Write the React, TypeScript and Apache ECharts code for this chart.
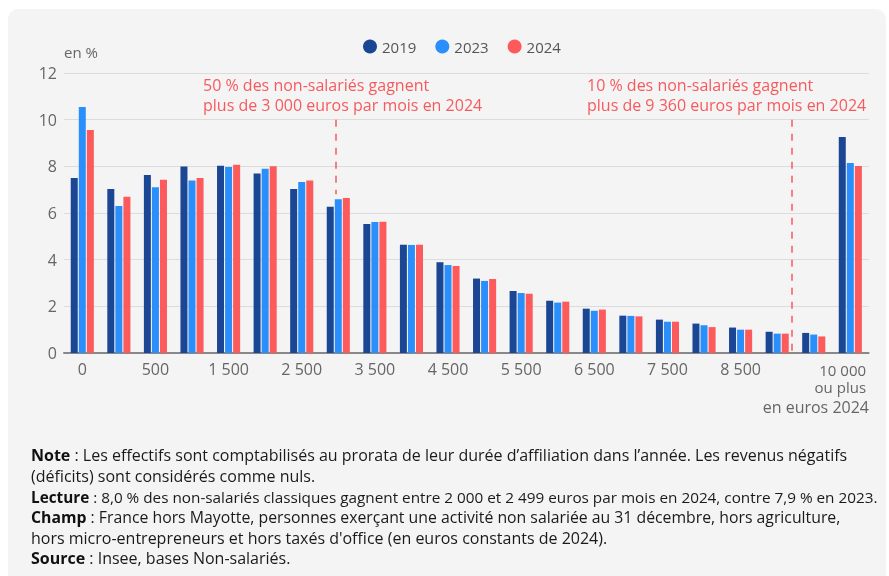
import React, { useEffect, useRef } from "react";
import * as echarts from "echarts";

const categories = [
  "0", "1", "500", "1 000", "1 500", "2 000", "2 500", "3 000", "3 500", "4 000", "4 500",
  "5 000", "5 500", "6 000", "6 500", "7 000", "7 500", "8 000", "8 500", "9 000", "9 500", "10 000 ou plus",
];
const shownLabels = [0, 2, 4, 6, 8, 10, 12, 14, 16, 18, 21];
const v2019 = [7.5, 7.03, 7.63, 7.99, 8.03, 7.69, 7.03, 6.27, 5.53, 4.64, 3.89, 3.19, 2.66, 2.24, 1.9, 1.6, 1.43, 1.26, 1.09, 0.91, 0.86, 9.26];
const v2023 = [10.54, 6.3, 7.1, 7.39, 7.97, 7.9, 7.33, 6.59, 5.61, 4.63, 3.77, 3.09, 2.57, 2.16, 1.81, 1.59, 1.34, 1.19, 1.0, 0.83, 0.79, 8.14];
const v2024 = [9.56, 6.7, 7.43, 7.5, 8.07, 8.0, 7.39, 6.64, 5.63, 4.64, 3.73, 3.17, 2.54, 2.2, 1.86, 1.57, 1.34, 1.11, 1.0, 0.83, 0.71, 8.01];
const yearNames = ["2019", "2023", "2024"];
const yTicks = { min: 0, max: 12, interval: 2 };
// annotation lines: category position (fractional), from value, to value
const medianLine = { pos: 6.93, from: 10, to: 6.8 };
const decileLine = { pos: 19.39, from: 10, to: 0 };
const annot1 = ["50 % des non-salariés gagnent", "plus de 3 000 euros par mois en 2024"];
const annot2 = ["10 % des non-salariés gagnent", "plus de 9 360 euros par mois en 2024"];
const footLines = [
  "{b|Note} : Les effectifs sont comptabilisés au prorata de leur durée d’affiliation dans l’année. Les revenus négatifs",
  "(déficits) sont considérés comme nuls.",
  "{b|Lecture} : 8,0 % des non-salariés classiques gagnent entre 2 000 et 2 499 euros par mois en 2024, contre 7,9 % en 2023.",
  "{b|Champ} : France hors Mayotte, personnes exerçant une activité non salariée au 31 décembre, hors agriculture,",
  "hors micro-entrepreneurs et hors taxés d'office (en euros constants de 2024).",
  "{b|Source} : Insee, bases Non-salariés.",
];
const footY = [455, 476, 497, 517, 538, 558];
const footSize = [16, 16, 15.3, 15.8, 16, 16];

const FONT = "'Open Sans', 'Noto Sans', sans-serif";
const COLORS = ["#1b4694", "#2b8ffb", "#fd5a5c"];
const RED = "#f65a5f";

export default function App() {
  const ref = useRef<HTMLDivElement>(null);
  useEffect(() => {
    if (!ref.current) return;
    const chart = echarts.init(ref.current, null, { renderer: "svg" });
    const option: any = {
      animation: false,
      textStyle: { fontFamily: FONT },
      graphic: [
        {
          type: "rect",
          z: -10,
          silent: true,
          shape: { x: 8, y: 9, width: 878, height: 580, r: 10 },
          style: { fill: "#f4f4f4" },
        },
        {
          type: "text",
          x: 64,
          y: 52,
          style: {
            text: "en %",
            fill: "#666",
            font: `15px ${FONT}`,
            verticalAlign: "middle",
          },
        },
        {
          type: "text",
          x: 203,
          y: 75,
          style: {
            text: annot1.join("\n"),
            fill: RED,
            font: `16px ${FONT}`,
            lineHeight: 20,
          },
        },
        {
          type: "text",
          x: 587,
          y: 75,
          style: {
            text: annot2.join("\n"),
            fill: RED,
            font: `16px ${FONT}`,
            lineHeight: 20,
          },
        },
        {
          type: "text",
          x: 869,
          y: 407,
          style: {
            text: "en euros 2024",
            fill: "#666",
            font: `16px ${FONT}`,
            align: "right",
            verticalAlign: "middle",
          },
        },
        ...footLines.map((t, i) => ({
          type: "text",
          x: 31,
          y: footY[i],
          style: {
            text: t,
            fill: "#1a1a1a",
            font: `${footSize[i]}px ${FONT}`,
            verticalAlign: "middle",
            rich: {
              b: { fontWeight: "bold", fontSize: footSize[i], fontFamily: FONT, fill: "#111" },
            },
          },
        })),
      ],
      legend: {
        data: yearNames,
        left: 358,
        top: 34,
        icon: "circle",
        itemWidth: 14,
        itemHeight: 14,
        itemGap: 19,
        textStyle: { fontSize: 15, color: "#555", fontFamily: FONT },
      },
      grid: { left: 64, right: 19, top: 73, bottom: 223, containLabel: false },
      xAxis: [
        {
          type: "category",
          data: categories,
          axisTick: { show: false },
          axisLine: { lineStyle: { color: "#888", width: 2 } },
          axisLabel: {
            interval: (i: number) => shownLabels.includes(i),
            margin: 8,
            fontSize: 16,
            color: "#666",
            fontFamily: FONT,
            formatter: (v: string, i: number) =>
              i === categories.length - 1 ? "{r|10 000}\n{r|ou plus}" : v,
            rich: {
              r: { align: "right", padding: [0, 20, 0, 0], fontSize: 15, lineHeight: 17, color: "#666", fontFamily: FONT },
            },
          },
        },
        {
          type: "value",
          min: -0.5,
          max: categories.length - 0.5,
          show: false,
        },
      ],
      yAxis: {
        type: "value",
        min: yTicks.min,
        max: yTicks.max,
        interval: yTicks.interval,
        axisLine: { show: false },
        axisTick: { show: false },
        axisLabel: { fontSize: 16, color: "#666", margin: 7, fontFamily: FONT },
        splitLine: { lineStyle: { color: "#dcdcdc", width: 1 } },
      },
      series: [
        ...[v2019, v2023, v2024].map((d, i) => ({
          name: yearNames[i],
          type: "bar",
          data: d,
          barWidth: 7,
          barGap: "15%",
          itemStyle: { color: COLORS[i] },
        })),
        {
          type: "line",
          xAxisIndex: 1,
          data: [],
          silent: true,
          markLine: {
            symbol: "none",
            silent: true,
            label: { show: false },
            lineStyle: { color: RED, type: [7, 7], width: 1.5 },
            data: [
              [{ coord: [medianLine.pos, medianLine.from] }, { coord: [medianLine.pos, medianLine.to] }],
              [{ coord: [decileLine.pos, decileLine.from] }, { coord: [decileLine.pos, decileLine.to] }],
            ],
          },
        },
      ],
    };
    chart.setOption(option);
    return () => chart.dispose();
  }, []);
  return (
    <div
      ref={ref}
      style={{ position: "fixed", left: 0, top: 0, width: 889, height: 576 }}
    />
  );
}
